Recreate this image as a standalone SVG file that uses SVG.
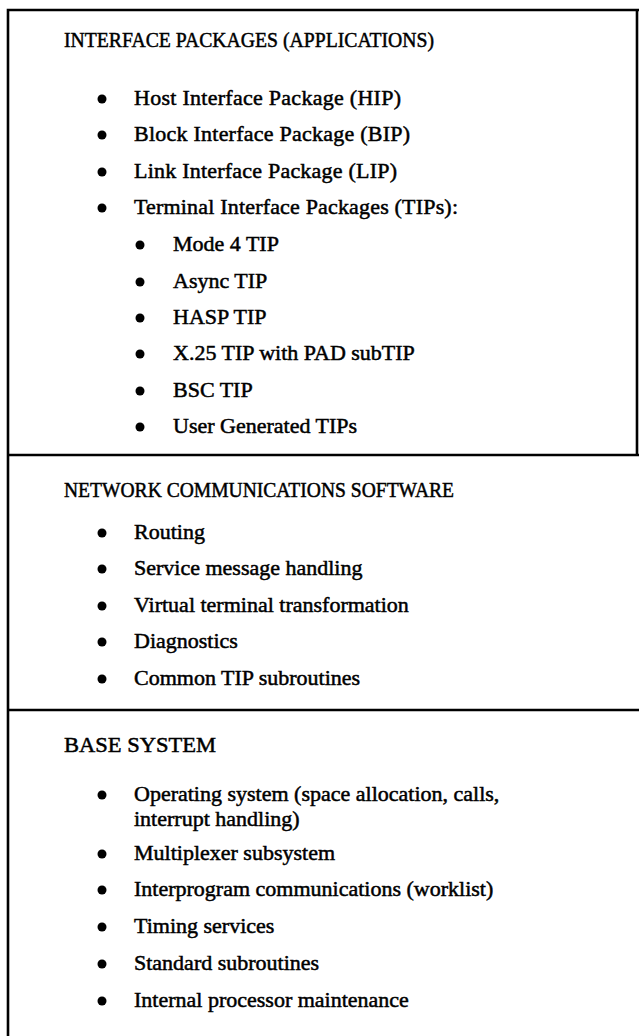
<svg xmlns="http://www.w3.org/2000/svg" width="639" height="1036" viewBox="0 0 639 1036">
<style>
.t{font-family:"Liberation Serif","Times New Roman",serif;font-size:22px;fill:#000;stroke:#000;stroke-width:0.5}
.b{fill:#000}
.f{stroke:#000;stroke-width:2.6;fill:none}
</style>
<rect width="639" height="1036" fill="#fff"/>
<g id="frame">
<path class="f" d="M8,1036 V10 H639"/>
<path class="f" d="M637,10 V455"/>
<path class="f" d="M8,455 H639"/>
<path class="f" d="M8,710 H639"/>
</g>
<g id="interface-packages">
<text class="t" x="64" y="47" textLength="370" lengthAdjust="spacingAndGlyphs">INTERFACE PACKAGES (APPLICATIONS)</text>
<circle class="b" cx="102" cy="99" r="4.5"/><text class="t" x="134" y="105" textLength="267" lengthAdjust="spacing">Host Interface Package (HIP)</text>
<circle class="b" cx="102" cy="135" r="4.5"/><text class="t" x="134" y="141" textLength="276" lengthAdjust="spacing">Block Interface Package (BIP)</text>
<circle class="b" cx="102" cy="172" r="4.5"/><text class="t" x="134" y="178" textLength="263" lengthAdjust="spacing">Link Interface Package (LIP)</text>
<circle class="b" cx="102" cy="208" r="4.5"/><text class="t" x="134" y="214" textLength="324" lengthAdjust="spacing">Terminal Interface Packages (TIPs):</text>
<circle class="b" cx="140" cy="245" r="4.5"/><text class="t" x="173" y="251">Mode 4 TIP</text>
<circle class="b" cx="140" cy="282" r="4.5"/><text class="t" x="173" y="288">Async TIP</text>
<circle class="b" cx="140" cy="318" r="4.5"/><text class="t" x="173" y="324">HASP TIP</text>
<circle class="b" cx="140" cy="354" r="4.5"/><text class="t" x="173" y="360">X.25 TIP with PAD subTIP</text>
<circle class="b" cx="140" cy="391" r="4.5"/><text class="t" x="173" y="397">BSC TIP</text>
<circle class="b" cx="140" cy="427" r="4.5"/><text class="t" x="173" y="433">User Generated TIPs</text>
</g>
<g id="network-communications">
<text class="t" x="64" y="497" textLength="390" lengthAdjust="spacingAndGlyphs">NETWORK COMMUNICATIONS SOFTWARE</text>
<circle class="b" cx="102" cy="533" r="4.5"/><text class="t" x="134" y="539">Routing</text>
<circle class="b" cx="102" cy="569" r="4.5"/><text class="t" x="134" y="575">Service message handling</text>
<circle class="b" cx="102" cy="606" r="4.5"/><text class="t" x="134" y="612">Virtual terminal transformation</text>
<circle class="b" cx="102" cy="642" r="4.5"/><text class="t" x="134" y="648">Diagnostics</text>
<circle class="b" cx="102" cy="679" r="4.5"/><text class="t" x="134" y="685">Common TIP subroutines</text>
</g>
<g id="base-system">
<text class="t" x="64" y="752" textLength="152" lengthAdjust="spacingAndGlyphs">BASE SYSTEM</text>
<circle class="b" cx="102" cy="795" r="4.5"/><text class="t" x="134" y="801">Operating system (space allocation, calls,</text>
<text class="t" x="134" y="826">interrupt handling)</text>
<circle class="b" cx="102" cy="854" r="4.5"/><text class="t" x="134" y="860">Multiplexer subsystem</text>
<circle class="b" cx="102" cy="890" r="4.5"/><text class="t" x="134" y="896">Interprogram communications (worklist)</text>
<circle class="b" cx="102" cy="927" r="4.5"/><text class="t" x="134" y="933">Timing services</text>
<circle class="b" cx="102" cy="964" r="4.5"/><text class="t" x="134" y="970">Standard subroutines</text>
<circle class="b" cx="102" cy="1001" r="4.5"/><text class="t" x="134" y="1007">Internal processor maintenance</text>
</g>
</svg>
